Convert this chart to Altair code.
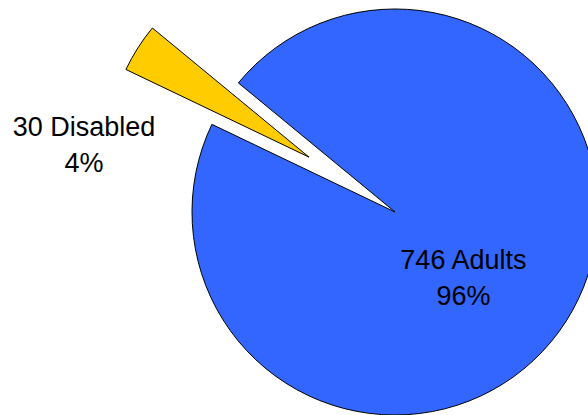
import math
import altair as alt
import pandas as pd

# ---- data ----
categories = ["Adults", "Disabled"]
counts = [746, 30]
percents = ["96%", "4%"]

df = pd.DataFrame({"category": categories, "count": counts, "pct": percents})
df["label"] = [f"{n} {c}\n{p}" for c, n, p in zip(categories, counts, percents)]

# ---- style / layout ----
W, H = 588, 415
CX, CY = 395, 212
R = 203
START_DEG = 309.5
EXPLODE = 102
BLUE, YELLOW = "#3366FF", "#FFCC00"
FONT = "Liberation Sans"
FS, LH = 27, 36

total = sum(counts)
start = math.radians(START_DEG)
theta_scale = alt.Scale(range=[start, start + 2 * math.pi])

# explode offset of the Disabled slice, derived from the data
before = counts[0] / total
mid_dis = start + 2 * math.pi * (before + counts[1] / total / 2)
EX = CX + EXPLODE * math.sin(mid_dis)
EY = CY - EXPLODE * math.cos(mid_dis)

base = alt.Chart(df)
theta = alt.Theta("count:Q", stack=True, scale=theta_scale)
order = alt.Order("category:N", sort="ascending")

is_adult = alt.datum.category == "Adults"

adults_arc = base.mark_arc(radius=R, strokeWidth=1).encode(
    theta=theta, order=order,
    x=alt.value(CX), y=alt.value(CY),
    fill=alt.condition(is_adult, alt.value(BLUE), alt.value("transparent")),
    stroke=alt.condition(is_adult, alt.value("black"), alt.value("transparent")),
)

dis_arc = base.mark_arc(radius=R, strokeWidth=1).encode(
    theta=theta, order=order,
    x=alt.value(EX), y=alt.value(EY),
    fill=alt.condition(is_adult, alt.value("transparent"), alt.value(YELLOW)),
    stroke=alt.condition(is_adult, alt.value("transparent"), alt.value("black")),
)

adults_text = base.mark_text(
    radius=93, dx=-10, dy=-1, font=FONT, fontSize=FS, lineHeight=LH,
    lineBreak="\n", align="center", baseline="middle", color="black",
).encode(
    theta=theta, order=order,
    x=alt.value(CX), y=alt.value(CY),
    text=alt.condition(is_adult, "label:N", alt.value("")),
)

dis_text = base.mark_text(
    radius=299, dx=-59, dy=77, font=FONT, fontSize=FS, lineHeight=LH,
    lineBreak="\n", align="center", baseline="middle", color="black",
).encode(
    theta=theta, order=order,
    x=alt.value(CX), y=alt.value(CY),
    text=alt.condition(is_adult, alt.value(""), "label:N"),
)

chart = alt.layer(adults_arc, dis_arc, adults_text, dis_text).properties(
    width=W, height=H, padding=0, autosize=alt.AutoSizeParams(type="none"),
    background="white",
).configure_view(stroke=None)

chart.save("out.html", embed_options={"renderer": "svg", "actions": False})
